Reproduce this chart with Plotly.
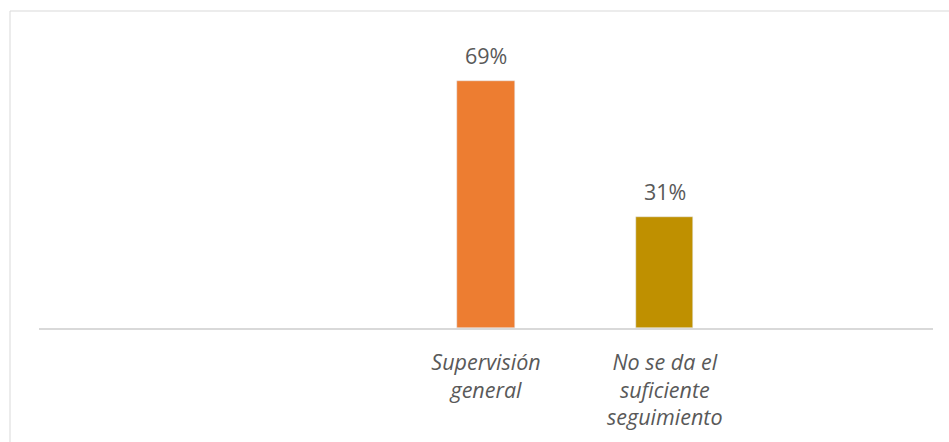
import plotly.graph_objects as go

categories = [" ", "  ", "Supervisión<br>general", "No se da el<br>suficiente<br>seguimiento", "   "]
values = [None, None, 69, 31, None]
colors = ["#ED7D31", "#ED7D31", "#ED7D31", "#BF9000", "#BF9000"]
labels = ["", "", "69%", "31%", ""]

fig = go.Figure()
fig.add_trace(go.Bar(
    x=categories, y=values, marker_color=colors, width=0.32,
    hoverinfo="skip",
))

for c, v, t in zip(categories, values, labels):
    if v is not None:
        fig.add_annotation(x=c, y=v, text=t, showarrow=False, yanchor="bottom",
                           yshift=9, font=dict(family="Open Sans", size=21.5, color="#595959"))

L, R, T, B = 39, 16, 20, 114
W, H = 949, 442
pw, ph = W - L - R, H - T - B
fig.add_shape(type="rect", xref="paper", yref="paper",
              x0=(10 - L) / pw, x1=(W + 2 - L) / pw,
              y0=(H - B - (H + 2)) / ph, y1=(H - B - 11) / ph,
              line=dict(color="#D9D9D9", width=1), layer="below")

fig.update_layout(
    width=W, height=H, margin=dict(l=L, r=R, t=T, b=B),
    plot_bgcolor="white", paper_bgcolor="white", showlegend=False,
    bargap=0,
    xaxis=dict(showline=True, linecolor="#D9D9D9", linewidth=1.5, showgrid=False,
               ticks="", tickfont=dict(family="Open Sans", size=21.5, color="#595959", style="italic"),
               ticklabelstandoff=14),
    yaxis=dict(range=[0, 86], visible=False, showgrid=False, zeroline=False),
)
fig.write_html("out.html")
